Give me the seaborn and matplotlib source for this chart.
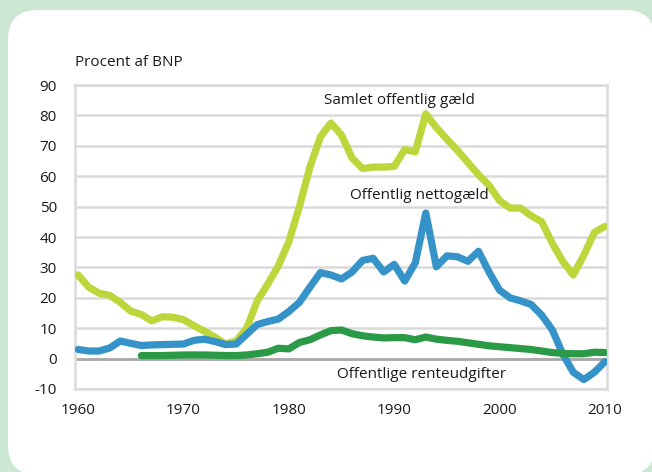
import matplotlib
matplotlib.use("Agg")
import matplotlib.pyplot as plt
from matplotlib.patches import FancyBboxPatch
from matplotlib.transforms import IdentityTransform
import numpy as np
import pandas as pd
import seaborn as sns

# aar og serier (procent af BNP)
years = list(range(1960, 2011))

samlet = [27.5, 23.5, 21.5, 20.8, 18.5, 15.6, 14.5, 12.4, 13.8, 13.6, 12.8,
          10.8, 9.0, 7.0, 4.8, 5.8, 10.0, 19.0, 24.5, 30.5, 38.5, 50.0, 63.0,
          73.0, 77.5, 73.5, 66.0, 62.5, 63.0, 63.0, 63.2, 68.8, 68.0, 80.5,
          76.0, 72.2, 68.5, 64.5, 60.5, 57.0, 52.0, 49.5, 49.5, 47.0, 45.0,
          38.0, 32.0, 27.5, 34.0, 41.5, 43.5]

netto = [3.0, 2.5, 2.5, 3.5, 5.8, 5.0, 4.3, 4.5, 4.6, 4.7, 4.8, 6.0, 6.4,
         5.6, 4.6, 4.8, 8.0, 11.2, 12.2, 13.0, 15.5, 18.5, 23.5, 28.3, 27.5,
         26.2, 28.5, 32.3, 33.0, 28.5, 31.0, 25.5, 31.5, 47.9, 30.2, 33.8,
         33.5, 32.0, 35.3, 28.5, 22.5, 20.0, 19.0, 17.8, 14.3, 9.5, 1.5,
         -4.5, -6.9, -4.5, -1.0]

rente_years = list(range(1966, 2011))
rente = [1.0, 1.0, 1.0, 1.1, 1.2, 1.2, 1.2, 1.1, 1.0, 1.0, 1.2, 1.6, 2.1,
         3.4, 3.2, 5.3, 6.2, 7.8, 9.2, 9.4, 8.2, 7.5, 7.1, 6.8, 6.9, 6.9,
         6.2, 7.1, 6.4, 6.0, 5.7, 5.2, 4.7, 4.2, 3.9, 3.6, 3.3, 3.0, 2.5,
         2.0, 1.7, 1.6, 1.6, 2.1, 2.0]

y_ticks = list(range(-10, 100, 10))
x_ticks = [1960, 1970, 1980, 1990, 2000, 2010]

df = pd.concat([
    pd.DataFrame({"aar": years, "pct": samlet, "serie": "Samlet offentlig gæld"}),
    pd.DataFrame({"aar": years, "pct": netto, "serie": "Offentlig nettogæld"}),
    pd.DataFrame({"aar": rente_years, "pct": rente, "serie": "Offentlige renteudgifter"}),
])

farver = {"Samlet offentlig gæld": "#bcd63c",
          "Offentlig nettogæld": "#3593c9",
          "Offentlige renteudgifter": "#2b9a47"}

sns.set_theme(style="white")
plt.rcParams["font.family"] = ["Open Sans", "DejaVu Sans"]
plt.rcParams["axes.unicode_minus"] = False

fig = plt.figure(figsize=(6.52, 4.72), dpi=100)
fig.patch.set_facecolor("#cce7d4")
# hvid afrundet baggrund (pixelkoordinater)
panel = FancyBboxPatch((8, -3), 647, 465,
                       boxstyle="round,pad=0,rounding_size=30",
                       transform=IdentityTransform(), facecolor="white",
                       edgecolor="none", zorder=-5)
fig.patches.append(panel)

ax = fig.add_axes([75 / 652, 1 - 389 / 472, 532 / 652, 304 / 472])
ax.set_facecolor("none")

sns.lineplot(data=df, x="aar", y="pct", hue="serie", palette=farver,
             linewidth=5.2, legend=False, ax=ax, zorder=3,
             solid_capstyle="round", solid_joinstyle="round")

ax.set_xlim(1959.7, 2010.2)
ax.set_ylim(-10, 90)
ax.set_xticks(x_ticks)
ax.set_yticks(y_ticks)
ax.grid(axis="y", color="#dadada", linewidth=1.8)
ax.axhline(0, color="#a9a9a9", linewidth=2, zorder=2)
for s in ax.spines.values():
    s.set_color("#dadada")
    s.set_linewidth(1.8)
ax.tick_params(axis="y", length=0, pad=13, labelsize=11, labelcolor="#1a1a1a")
ax.tick_params(axis="x", length=0, pad=10, labelsize=11, labelcolor="#1a1a1a")
ax.set_xlabel("")
ax.set_ylabel("")

fig.text(75 / 652, 1 - 62 / 472, "Procent af BNP", fontsize=11,
         color="#1a1a1a", va="center", ha="left")

ax.text(1990.5, 84.9, "Samlet offentlig gæld", fontsize=11, ha="center",
        va="center", color="#1a1a1a")
ax.text(1992.4, 53.6, "Offentlig nettogæld", fontsize=11, ha="center",
        va="center", color="#1a1a1a")
ax.text(1984.6, -5.3, "Offentlige renteudgifter", fontsize=11, ha="left",
        va="center", color="#1a1a1a")

fig.savefig("out.png", dpi=100, facecolor=fig.get_facecolor())
